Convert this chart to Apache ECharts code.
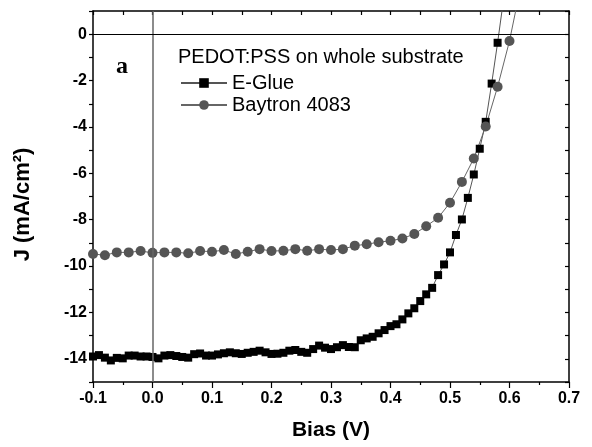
<!DOCTYPE html>
<html>
<head>
<meta charset="utf-8">
<script src="https://cdn.jsdelivr.net/npm/echarts@6/dist/echarts.min.js"></script>
<style>html,body{margin:0;padding:0;background:#fff}#c{width:592px;height:447px}</style>
</head>
<body>
<div id="c"></div>
<script>
// E-Glue: bias from -0.10 to 0.59 step 0.01
const eglueV = [];
for (let i = -10; i <= 59; i++) eglueV.push(+(i / 100).toFixed(2));
const eglueJ = [
  -13.90,-13.84,-13.95,-14.07,-13.96,-13.98,-13.86,-13.86,-13.90,-13.90,
  -13.92,-13.98,-13.86,-13.84,-13.88,-13.92,-13.95,-13.80,-13.77,-13.86,
  -13.86,-13.81,-13.76,-13.72,-13.76,-13.79,-13.74,-13.70,-13.65,-13.72,
  -13.79,-13.78,-13.74,-13.65,-13.62,-13.70,-13.74,-13.58,-13.43,-13.52,
  -13.58,-13.50,-13.41,-13.49,-13.50,-13.20,-13.12,-13.05,-12.90,-12.76,
  -12.59,-12.51,-12.30,-12.04,-11.82,-11.51,-11.22,-10.94,-10.39,-9.93,
  -9.41,-8.66,-7.99,-7.06,-6.05,-4.94,-3.78,-2.13,-0.37,1.50
];
// Baytron 4083: bias from -0.10 to 0.62 step 0.02
const baytronV = [];
for (let i = -10; i <= 62; i += 2) baytronV.push(+(i / 100).toFixed(2));
const baytronJ = [
  -9.48,-9.53,-9.41,-9.41,-9.35,-9.43,-9.41,-9.41,-9.45,-9.35,
  -9.38,-9.31,-9.48,-9.38,-9.27,-9.35,-9.34,-9.27,-9.34,-9.27,
  -9.31,-9.27,-9.12,-9.06,-8.97,-8.91,-8.81,-8.62,-8.28,-7.92,
  -7.27,-6.37,-5.36,-3.98,-2.27,-0.29,2.20
];
const seriesNames = ['E-Glue', 'Baytron 4083'];
const legendTitle = 'PEDOT:PSS on whole substrate';
const panelLabel = 'a';
const xName = 'Bias (V)';
const yName = 'J (mA/cm\u00b2)';

const FONT = '"Liberation Sans", Arial, sans-serif';
const chart = echarts.init(document.getElementById('c'), null, {renderer: 'canvas'});
const axisLine = {show: true, onZero: false, lineStyle: {color: '#000', width: 1.5}};
chart.setOption({
  animation: false,
  backgroundColor: '#fff',
  grid: {left: 93, right: 23, top: 11, bottom: 65, containLabel: false},
  xAxis: [{
    type: 'value', position: 'bottom', min: -0.1, max: 0.7, interval: 0.1,
    axisLine: axisLine,
    axisTick: {show: true, inside: false, length: 6, lineStyle: {color: '#000', width: 1.2}},
    minorTick: {show: true, splitNumber: 2, length: 3, lineStyle: {color: '#000', width: 1.2}},
    splitLine: {show: false},
    axisLabel: {color: '#000', fontFamily: FONT, fontWeight: 'bold', fontSize: 16, margin: 9,
      formatter: v => v.toFixed(1)},
    name: xName, nameLocation: 'middle', nameGap: 38,
    nameTextStyle: {color: '#000', fontFamily: FONT, fontWeight: 'bold', fontSize: 21, padding: [0, 0, 0, 0]}
  }, {
    type: 'value', position: 'top', min: -0.1, max: 0.7, interval: 0.05,
    axisLine: axisLine,
    axisTick: {show: true, inside: true, length: 4, lineStyle: {color: '#000', width: 1.2}},
    splitLine: {show: false}, axisLabel: {show: false}
  }],
  yAxis: [{
    type: 'value', position: 'left', min: -15, max: 1, interval: 1,
    axisLine: axisLine,
    axisTick: {show: true, inside: false, length: 4, lineStyle: {color: '#000', width: 1.2}},
    splitLine: {show: false},
    axisLabel: {color: '#000', fontFamily: FONT, fontWeight: 'bold', fontSize: 16, margin: 6,
      formatter: v => (Math.round(v) % 2 === 0 && v <= 0 ? String(Math.round(v)) : '')},
    name: yName, nameLocation: 'middle', nameGap: 59, nameRotate: 90,
    nameTextStyle: {color: '#000', fontFamily: FONT, fontWeight: 'bold', fontSize: 22, padding: [0, 16, 0, 0]}
  }, {
    type: 'value', position: 'right', min: -15, max: 1, interval: 1,
    axisLine: axisLine,
    axisTick: {show: true, inside: true, length: 4, lineStyle: {color: '#000', width: 1.2}},
    splitLine: {show: false}, axisLabel: {show: false}
  }],
  legend: {
    orient: 'vertical', left: 175, top: 68, itemWidth: 46, itemHeight: 12, itemGap: 2,
    textStyle: {color: '#000', fontFamily: FONT, fontSize: 20, padding: [0, 0, 0, 0]},
    data: seriesNames
  },
  graphic: [
    {type: 'text', left: 178, top: 47, style: {text: legendTitle, fill: '#000', font: '20px ' + FONT}},
    {type: 'text', left: 116, top: 55, style: {text: panelLabel, fill: '#000', font: 'bold 24px "Liberation Serif", "Times New Roman", serif'}}
  ],
  series: [{
    name: seriesNames[0], type: 'line', xAxisIndex: 0, yAxisIndex: 0,
    data: eglueV.map((v, i) => [v, eglueJ[i]]),
    symbol: 'rect', symbolSize: 8, showSymbol: true,
    itemStyle: {color: '#000'}, lineStyle: {color: '#555', width: 1},
    clip: true,
    markLine: {
      silent: true, symbol: ['none', 'none'], label: {show: false},
      data: [
        {xAxis: 0, lineStyle: {color: '#666', width: 1.5, type: 'solid'}},
        {yAxis: 0, lineStyle: {color: '#000', width: 1, type: 'solid'}}
      ]
    }
  }, {
    name: seriesNames[1], type: 'line', xAxisIndex: 0, yAxisIndex: 0,
    data: baytronV.map((v, i) => [v, baytronJ[i]]),
    symbol: 'circle', symbolSize: 10, showSymbol: true,
    itemStyle: {color: '#555'}, lineStyle: {color: '#666', width: 1},
    clip: true
  }]
});
</script>
</body>
</html>
